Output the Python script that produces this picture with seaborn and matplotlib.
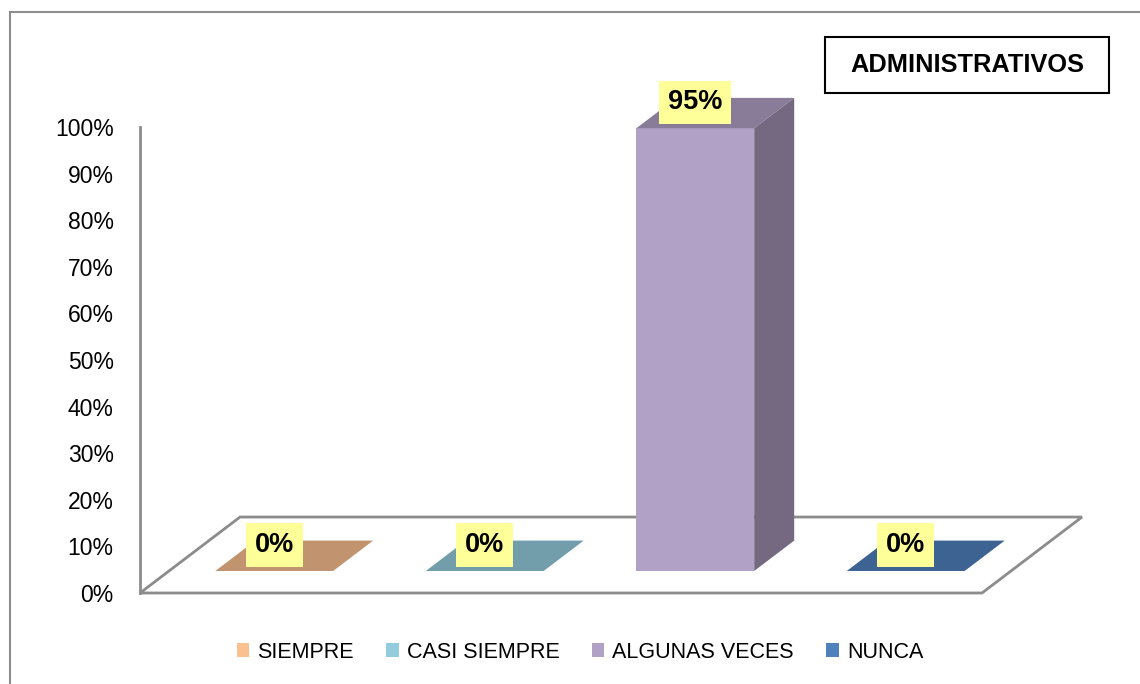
import matplotlib
matplotlib.use("Agg")
import matplotlib.pyplot as plt
from matplotlib.patches import Polygon, Rectangle, Patch
from matplotlib.transforms import Affine2D
import matplotlib.colors as mcolors
import seaborn as sns

categorias = ['SIEMPRE', 'CASI SIEMPRE', 'ALGUNAS VECES', 'NUNCA']
valores = [0.0, 0.0, 0.95, 0.0]
etiquetas = ['0%', '0%', '95%', '0%']
colores = ['#FAC090', '#93CDDD', '#B2A1C7', '#4F81BD']
ticks = [i / 10 for i in range(11)]
tick_labels = [f'{i * 10}%' for i in range(11)]
titulo = 'ADMINISTRATIVOS'

sns.set_style('white')
plt.rcParams['font.family'] = ['Liberation Sans', 'DejaVu Sans']
plt.rcParams['text.color'] = 'black'
plt.rcParams['ytick.color'] = 'black'
plt.rcParams['xtick.color'] = 'black'

GRIS = '#8C8C8C'
# depth direction (data units per unit of depth)
KX, KY = 0.475, 0.163
D_FRONT, D_BACK = 0.29, 0.69


def pt(x, y, d):
    return (x + d * KX, y + d * KY)


def shade(c, f):
    r, g, b = mcolors.to_rgb(c)
    return (r * f, g * f, b * f)


fig = plt.figure(figsize=(11.4, 6.84), dpi=100)
ax = fig.add_axes([140 / 1140, 91 / 684, 842 / 1140, 466 / 684])

sns.barplot(x=categorias, y=valores, hue=categorias, palette=colores,
            width=0.56, legend=False, ax=ax, saturation=1, zorder=3)

ax.set_xlim(-0.5, 3.5)
ax.set_ylim(0, 1)

# floor
floor = Polygon([pt(-0.5, 0, 0), pt(3.5, 0, 0), pt(3.5, 0, 1), pt(-0.5, 0, 1)],
                closed=True, facecolor='white', edgecolor=GRIS, lw=2,
                clip_on=False, zorder=1)
ax.add_patch(floor)

shift = Affine2D().translate(D_FRONT * KX, D_FRONT * KY)
for i, p in enumerate(list(ax.patches)):
    if p is floor:
        continue
    x0 = p.get_x()
    x1 = x0 + p.get_width()
    h = p.get_height()
    col = colores[i]
    p.set_transform(shift + ax.transData)
    p.set_clip_on(False)
    p.set_edgecolor('none')
    top = Polygon([pt(x0, h, D_FRONT), pt(x1, h, D_FRONT),
                   pt(x1, h, D_BACK), pt(x0, h, D_BACK)],
                  closed=True, facecolor=shade(col, 0.77), edgecolor='none',
                  clip_on=False, zorder=4)
    ax.add_patch(top)
    if h > 0:
        side = Polygon([pt(x1, 0, D_FRONT), pt(x1, h, D_FRONT),
                        pt(x1, h, D_BACK), pt(x1, 0, D_BACK)],
                       closed=True, facecolor=shade(col, 0.65),
                       edgecolor='none', clip_on=False, zorder=4)
        ax.add_patch(side)
    cx = (x0 + x1) / 2
    ax.text(pt(cx, h, D_FRONT)[0], pt(cx, h, 0.63)[1], etiquetas[i],
            ha='center', va='center', fontsize=19.5, fontweight='bold',
            zorder=6, clip_on=False,
            bbox=dict(boxstyle='square,pad=0.32', facecolor='#FFFF99',
                      edgecolor='none'))

for s in ['top', 'right', 'bottom']:
    ax.spines[s].set_visible(False)
ax.spines['left'].set_color(GRIS)
ax.spines['left'].set_linewidth(2)
ax.set_xticks([])
ax.set_yticks(ticks)
ax.set_yticklabels(tick_labels)
ax.tick_params(axis='y', length=0, pad=19, labelsize=16.5)
ax.set_facecolor('none')
ax.set_xlabel('')
ax.set_ylabel('')

# title box
fig.patches.append(Rectangle((825 / 1140, 1 - 93 / 684), 284 / 1140, 56 / 684,
                             transform=fig.transFigure, facecolor='white',
                             edgecolor='black', lw=1.5))
fig.text(967 / 1140, 1 - 65 / 684, titulo, ha='center', va='center',
         fontsize=18.3, fontweight='bold')

# outer border
fig.patches.append(Rectangle((10 / 1140, -0.1), 1.2, 1.1 - 12 / 684,
                             transform=fig.transFigure, fill=False,
                             edgecolor=GRIS, lw=1.5, clip_on=False))

handles = [Patch(facecolor=c, edgecolor='none', label=l)
           for c, l in zip(colores, categorias)]
fig.legend(handles=handles, loc='center', ncol=4, frameon=False,
           bbox_to_anchor=(580 / 1140, 1 - 652 / 684), fontsize=15.5,
           handlelength=0.58, handleheight=0.58, handletextpad=0.38,
           columnspacing=1.5)

fig.savefig('out.png', dpi=100, facecolor='white')
